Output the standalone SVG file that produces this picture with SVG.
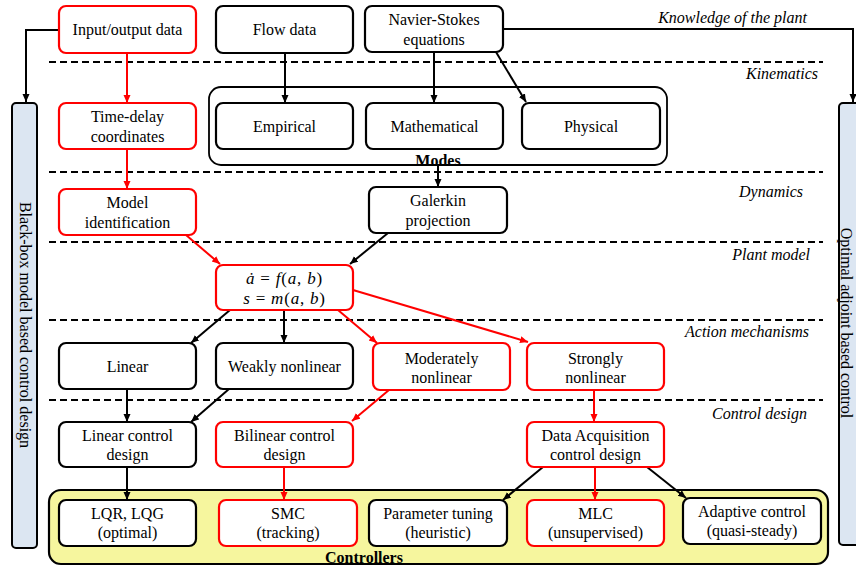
<svg xmlns="http://www.w3.org/2000/svg" width="856" height="566" viewBox="0 0 856 566">
<defs>
<marker id="ab" markerUnits="userSpaceOnUse" markerWidth="9" markerHeight="8" refX="8" refY="3.5" orient="auto"><path d="M0,0 L8,3.5 L0,7 z" fill="#000"/></marker>
<marker id="ar" markerUnits="userSpaceOnUse" markerWidth="9" markerHeight="8" refX="8" refY="3.5" orient="auto"><path d="M0,0 L8,3.5 L0,7 z" fill="#f00"/></marker>
<style>
.n rect{fill:#fff;stroke:#000;stroke-width:2.2}
.r rect{stroke:#f00}
text{font-family:"Liberation Serif","Times New Roman",serif;font-size:16px;fill:#000}
.t{text-anchor:middle}
.lab{font-style:italic;font-size:16px;text-anchor:end}
.b{font-weight:bold;text-anchor:middle}
.dash{stroke:#000;stroke-width:2;stroke-dasharray:7,4;fill:none}
.cb{stroke:#000;stroke-width:2;fill:none;marker-end:url(#ab)}
.cr{stroke:#f00;stroke-width:2;fill:none;marker-end:url(#ar)}
.eq{font-family:"Liberation Serif",serif;font-size:17px;text-anchor:middle;letter-spacing:0.8px}
</style>
</defs>
<rect width="856" height="566" fill="#fff"/>

<g id="separators">
<line class="dash" x1="49" y1="62" x2="823" y2="62"/>
<line class="dash" x1="49" y1="172" x2="823" y2="172"/>
<line class="dash" x1="49" y1="242" x2="823" y2="242"/>
<line class="dash" x1="49" y1="320" x2="823" y2="320"/>
<line class="dash" x1="49" y1="400" x2="823" y2="400"/>
</g>

<g id="layer-labels">
<text class="lab" x="807" y="23">Knowledge of the plant</text>
<text class="lab" x="818" y="79">Kinematics</text>
<text class="lab" x="803" y="197">Dynamics</text>
<text class="lab" x="810" y="260">Plant model</text>
<text class="lab" x="809" y="337">Action mechanisms</text>
<text class="lab" x="807" y="419">Control design</text>
</g>

<g id="modes-group">
<rect x="209" y="87" width="458" height="78" rx="12" fill="#fff" stroke="#000" stroke-width="1.8"/>
<text class="b" x="438" y="166">Modes</text>
</g>

<g id="controllers-group">
<rect x="49" y="490" width="779" height="74" rx="12" fill="#f6f69e" stroke="#000" stroke-width="2.2"/>
<text class="b" x="364" y="563">Controllers</text>
</g>

<g id="blackbox-bar">
<rect x="12" y="103" width="25" height="445" rx="4" fill="#dce6f2" stroke="#000" stroke-width="2"/>
<text class="t" transform="translate(20,325) rotate(90)">Black-box model based control design</text>
</g>

<g id="adjoint-bar">
<rect x="839" y="103" width="30" height="442" rx="4" fill="#dce6f2" stroke="#000" stroke-width="2"/>
<text class="t" font-size="15.5" transform="translate(841,323) rotate(90)">Optimal adjoint based control</text>
</g>

<g id="connectors">
<polyline class="cb" points="59,30 26,30 26,102"/>
<polyline class="cb" points="503,29 853,29 853,102"/>
<line class="cr" x1="127" y1="53" x2="127" y2="103"/>
<line class="cb" x1="285" y1="53" x2="285" y2="103"/>
<line class="cb" x1="434" y1="52" x2="434" y2="103"/>
<line class="cb" x1="496" y1="52" x2="526" y2="102"/>
<line class="cr" x1="127" y1="149" x2="127" y2="189"/>
<line class="cb" x1="438" y1="165" x2="438" y2="187"/>
<line class="cr" x1="186" y1="235" x2="220" y2="264"/>
<line class="cb" x1="388" y1="233" x2="350" y2="264"/>
<line class="cb" x1="230" y1="310" x2="191" y2="343"/>
<line class="cb" x1="284" y1="310" x2="284" y2="343"/>
<line class="cr" x1="338" y1="310" x2="377" y2="343"/>
<line class="cr" x1="353" y1="290" x2="528" y2="342"/>
<line class="cb" x1="127" y1="389" x2="127" y2="422"/>
<line class="cb" x1="229" y1="389" x2="191" y2="422"/>
<line class="cr" x1="389" y1="390" x2="352" y2="421"/>
<line class="cr" x1="594" y1="390" x2="594" y2="422"/>
<line class="cb" x1="127" y1="467" x2="127" y2="500"/>
<line class="cr" x1="284" y1="467" x2="284" y2="500"/>
<line class="cb" x1="543" y1="467" x2="503" y2="500"/>
<line class="cr" x1="595" y1="467" x2="595" y2="500"/>
<line class="cb" x1="647" y1="467" x2="686" y2="498"/>
</g>

<g id="input-output-data" class="n r"><rect x="59" y="6" width="137" height="47" rx="7"/><text class="t" x="127.5" y="35">Input/output data</text></g>
<g id="flow-data" class="n"><rect x="216" y="6" width="137" height="47" rx="7"/><text class="t" x="284.5" y="35">Flow data</text></g>
<g id="navier-stokes" class="n"><rect x="365" y="6" width="138" height="46" rx="7"/><text class="t" x="434" y="25">Navier-Stokes</text><text class="t" x="434" y="45">equations</text></g>

<g id="time-delay" class="n r"><rect x="59" y="103" width="137" height="46" rx="7"/><text class="t" x="127.5" y="122">Time-delay</text><text class="t" x="127.5" y="142">coordinates</text></g>
<g id="empirical" class="n"><rect x="216" y="103" width="137" height="46" rx="7"/><text class="t" x="284.5" y="132">Empirical</text></g>
<g id="mathematical" class="n"><rect x="366" y="103" width="137" height="46" rx="7"/><text class="t" x="434.5" y="132">Mathematical</text></g>
<g id="physical" class="n"><rect x="522" y="103" width="138" height="46" rx="7"/><text class="t" x="591" y="132">Physical</text></g>

<g id="model-identification" class="n r"><rect x="59" y="189" width="137" height="46" rx="7"/><text class="t" x="127.5" y="208">Model</text><text class="t" x="127.5" y="228">identification</text></g>
<g id="galerkin" class="n"><rect x="369" y="187" width="138" height="46" rx="7"/><text class="t" x="438" y="206">Galerkin</text><text class="t" x="438" y="226">projection</text></g>

<g id="plant-model" class="n r"><rect x="216" y="265" width="137" height="45" rx="7"/>
<text class="eq" x="284.5" y="284"><tspan font-style="italic">ȧ</tspan> = <tspan font-style="italic">f</tspan>(<tspan font-style="italic">a</tspan>, <tspan font-style="italic">b</tspan>)</text>
<text class="eq" x="284.5" y="304"><tspan font-style="italic">s</tspan> = <tspan font-style="italic">m</tspan>(<tspan font-style="italic">a</tspan>, <tspan font-style="italic">b</tspan>)</text></g>

<g id="linear" class="n"><rect x="59" y="343" width="137" height="46" rx="7"/><text class="t" x="127.5" y="372">Linear</text></g>
<g id="weakly-nonlinear" class="n"><rect x="216" y="343" width="137" height="46" rx="7"/><text class="t" x="284.5" y="372">Weakly nonlinear</text></g>
<g id="moderately-nonlinear" class="n r"><rect x="373" y="343" width="137" height="47" rx="7"/><text class="t" x="441.5" y="364">Moderately</text><text class="t" x="441.5" y="383">nonlinear</text></g>
<g id="strongly-nonlinear" class="n r"><rect x="527" y="343" width="137" height="47" rx="7"/><text class="t" x="595.5" y="364">Strongly</text><text class="t" x="595.5" y="383">nonlinear</text></g>

<g id="linear-control-design" class="n"><rect x="59" y="422" width="137" height="45" rx="7"/><text class="t" x="127.5" y="441">Linear control</text><text class="t" x="127.5" y="460">design</text></g>
<g id="bilinear-control-design" class="n r"><rect x="216" y="422" width="137" height="45" rx="7"/><text class="t" x="284.5" y="441">Bilinear control</text><text class="t" x="284.5" y="460">design</text></g>
<g id="data-acquisition" class="n r"><rect x="527" y="422" width="137" height="45" rx="7"/><text class="t" x="595.5" y="441">Data Acquisition</text><text class="t" x="595.5" y="460">control design</text></g>

<g id="lqr-lqg" class="n"><rect x="59" y="500" width="137" height="46" rx="7"/><text class="t" x="127.5" y="519">LQR, LQG</text><text class="t" x="127.5" y="538">(optimal)</text></g>
<g id="smc" class="n r"><rect x="219" y="500" width="138" height="46" rx="7"/><text class="t" x="288" y="519">SMC</text><text class="t" x="288" y="538">(tracking)</text></g>
<g id="parameter-tuning" class="n"><rect x="369" y="500" width="138" height="46" rx="7"/><text class="t" x="438" y="519">Parameter tuning</text><text class="t" x="438" y="538">(heuristic)</text></g>
<g id="mlc" class="n r"><rect x="527" y="500" width="137" height="46" rx="7"/><text class="t" x="595.5" y="519">MLC</text><text class="t" x="595.5" y="538">(unsupervised)</text></g>
<g id="adaptive-control" class="n"><rect x="683" y="498" width="138" height="46" rx="7"/><text class="t" x="752" y="517">Adaptive control</text><text class="t" x="752" y="536">(quasi-steady)</text></g>
</svg>
